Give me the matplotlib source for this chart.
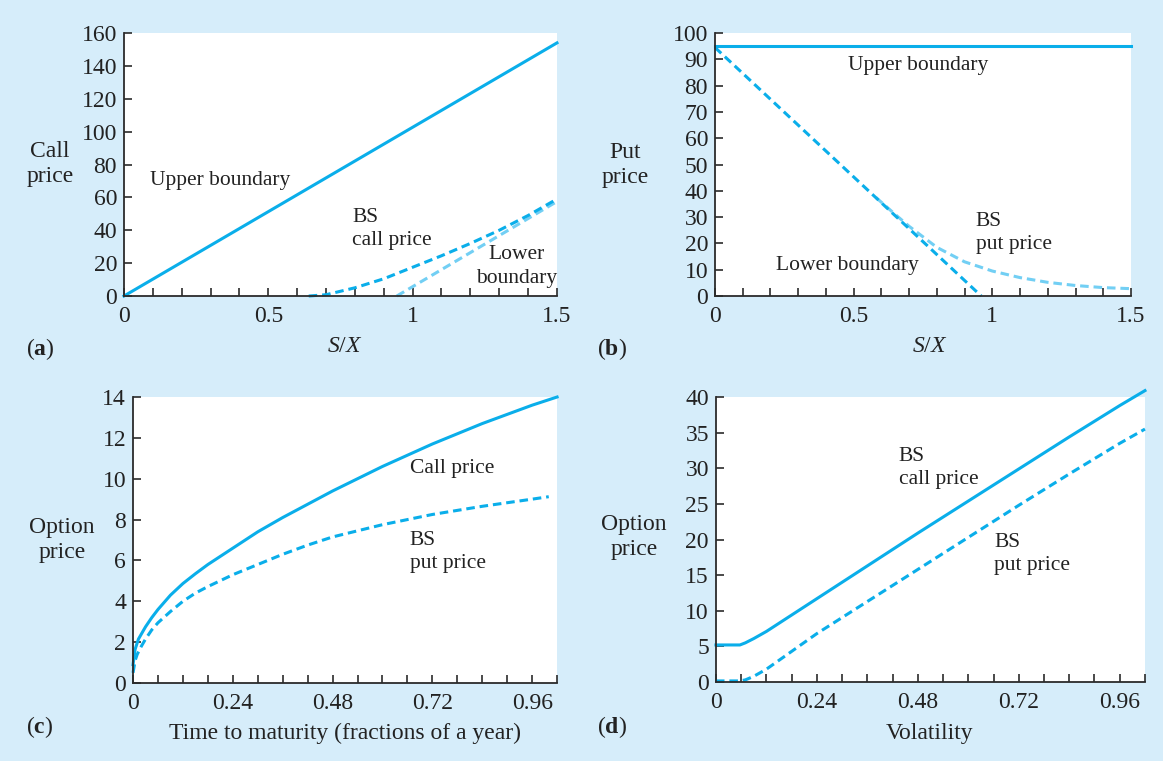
import numpy as np
import matplotlib
matplotlib.use('Agg')
import matplotlib.pyplot as plt

plt.rcParams['font.family'] = ['Liberation Serif', 'DejaVu Serif']
plt.rcParams['mathtext.fontset'] = 'custom'
plt.rcParams['mathtext.rm'] = 'Liberation Serif'
plt.rcParams['mathtext.it'] = 'Liberation Serif:italic'
plt.rcParams['mathtext.bf'] = 'Liberation Serif:bold'

# Colores
AZUL = '#0aaeea'
AZUL_CLARO = '#72cff4'
FONDO = '#d6edfa'
GRIS = '#2b2b2b'
TEXTO = '#222222'

# ---- Panel (a): precio de la call vs S/X
a_x_sup = [0.0, 1.5]
a_y_sup = [0.0, 154.0]
a_x_bs = [0.64, 0.7, 0.8, 0.9, 1.0, 1.1, 1.2, 1.3, 1.4, 1.5]
a_y_bs = [0.0, 0.8, 5.0, 10.5, 17.5, 24.5, 32.0, 40.0, 49.0, 59.0]
a_x_inf = [0.945, 1.5]
a_y_inf = [0.0, 57.5]

# ---- Panel (b): precio de la put vs S/X
b_x_sup = [0.0, 1.5]
b_y_sup = [95.0, 95.0]
b_x_inf = [0.0, 0.96]
b_y_inf = [94.5, 0.0]
b_x_bs = [0.58, 0.65, 0.7, 0.8, 0.9, 1.0, 1.1, 1.2, 1.3, 1.4, 1.5]
b_y_bs = [37.5, 31.0, 26.5, 18.5, 13.0, 9.5, 7.0, 5.2, 4.0, 3.2, 2.8]

# ---- Panel (c): precio vs tiempo al vencimiento
c_t_call = [0.0, 0.005, 0.013, 0.03, 0.045, 0.06, 0.09, 0.12, 0.15, 0.18, 0.24, 0.3, 0.36,
            0.42, 0.48, 0.6, 0.72, 0.84, 0.96, 1.02]
c_call = [0.9, 1.65, 2.15, 2.75, 3.2, 3.6, 4.3, 4.87, 5.35, 5.8, 6.6, 7.4, 8.1,
          8.75, 9.4, 10.6, 11.7, 12.7, 13.6, 14.0]
c_t_put = [0.0, 0.005, 0.01, 0.02, 0.03, 0.045, 0.06, 0.09, 0.12, 0.15, 0.18, 0.24, 0.3,
           0.36, 0.42, 0.48, 0.6, 0.72, 0.84, 0.96, 1.0]
c_put = [0.5, 1.1, 1.4, 1.8, 2.15, 2.6, 2.95, 3.5, 4.0, 4.4, 4.72, 5.3, 5.8,
         6.3, 6.75, 7.15, 7.75, 8.25, 8.65, 9.0, 9.12]

# ---- Panel (d): precio vs volatilidad
d_vol = [0.0, 0.03, 0.057, 0.07, 0.09, 0.12, 0.18, 0.24, 0.36, 0.48, 0.6, 0.72, 0.84, 0.96, 1.02]
d_call = [5.2, 5.2, 5.2, 5.5, 6.1, 7.1, 9.4, 11.7, 16.3, 20.9, 25.4, 29.9, 34.4, 38.8, 40.9]
d_put = [0.15, 0.15, 0.15, 0.3, 0.8, 1.8, 4.3, 6.8, 11.3, 15.8, 20.3, 24.8, 29.2, 33.5, 35.5]

LW = 2.2
GUION = (2.8, 1.6)
FS_TICK = 17
FS_ETIQ = 17
FS_NOTA = 15.5


def preparar_ejes(ax, xlim, ylim, xticks, xlabels, xminor, yticks):
    ax.set_facecolor('white')
    ax.set_xlim(*xlim)
    ax.set_ylim(*ylim)
    for lado in ['top', 'right']:
        ax.spines[lado].set_visible(False)
    for lado in ['left', 'bottom']:
        ax.spines[lado].set_color(GRIS)
        ax.spines[lado].set_linewidth(1.3)
    ax.set_xticks(xticks)
    ax.set_xticklabels(xlabels)
    ax.set_xticks(xminor, minor=True)
    ax.set_yticks(yticks)
    ax.tick_params(which='both', direction='in', colors=GRIS, labelcolor=TEXTO,
                   labelsize=FS_TICK, width=1.2)
    ax.tick_params(axis='x', which='both', length=6, pad=7)
    ax.tick_params(axis='y', which='both', length=6, pad=5)
    ax.tick_params(which='minor', labelbottom=False)


def nota(ax, x, y, texto, **kw):
    ax.text(x, y, texto, fontsize=FS_NOTA, va='center', linespacing=1.3, color=TEXTO, **kw)


fig = plt.figure(figsize=(11.63, 7.61), dpi=100)
fig.patch.set_facecolor(FONDO)

ax_a = fig.add_axes([0.1066, 0.611, 0.3723, 0.3456])
ax_b = fig.add_axes([0.6148, 0.611, 0.3577, 0.3456])
ax_c = fig.add_axes([0.1144, 0.1025, 0.3646, 0.3758])
ax_d = fig.add_axes([0.6156, 0.1038, 0.3689, 0.3745])

# Panel (a)
preparar_ejes(ax_a, (0, 1.5), (0, 160), [0, 0.5, 1, 1.5], ['0', '0.5', '1', '1.5'],
              np.arange(0, 1.51, 0.1), range(0, 161, 20))
ax_a.plot(a_x_sup, a_y_sup, color=AZUL, lw=LW, clip_on=False)
ax_a.plot(a_x_inf, a_y_inf, color=AZUL_CLARO, lw=LW, dashes=GUION, clip_on=False)
ax_a.plot(a_x_bs, a_y_bs, color=AZUL, lw=LW, dashes=GUION, clip_on=False)
nota(ax_a, 0.09, 70, 'Upper boundary')
nota(ax_a, 0.79, 41, 'BS\ncall price')
nota(ax_a, 1.5, 18, 'Lower\nboundary', ha='right', multialignment='center')

# Panel (b)
preparar_ejes(ax_b, (0, 1.5), (0, 100), [0, 0.5, 1, 1.5], ['0', '0.5', '1', '1.5'],
              np.arange(0, 1.51, 0.1), range(0, 101, 10))
ax_b.plot(b_x_sup, b_y_sup, color=AZUL, lw=LW, clip_on=False)
ax_b.plot(b_x_bs, b_y_bs, color=AZUL_CLARO, lw=LW, dashes=GUION, clip_on=False)
ax_b.plot(b_x_inf, b_y_inf, color=AZUL, lw=LW, dashes=GUION, clip_on=False)
nota(ax_b, 0.48, 87.5, 'Upper boundary')
nota(ax_b, 0.94, 24, 'BS\nput price')
nota(ax_b, 0.22, 11.5, 'Lower boundary')

# Panel (c)
preparar_ejes(ax_c, (0, 1.02), (0, 14), [0, 0.24, 0.48, 0.72, 0.96],
              ['0', '0.24', '0.48', '0.72', '0.96'], np.arange(0, 1.03, 0.06), range(0, 15, 2))
ax_c.plot(c_t_call, c_call, color=AZUL, lw=LW, clip_on=False)
ax_c.plot(c_t_put, c_put, color=AZUL, lw=LW, dashes=GUION, clip_on=False)
nota(ax_c, 0.666, 10.5, 'Call price')
nota(ax_c, 0.666, 6.4, 'BS\nput price')

# Panel (d)
preparar_ejes(ax_d, (0, 1.02), (0, 40), [0, 0.24, 0.48, 0.72, 0.96],
              ['0', '0.24', '0.48', '0.72', '0.96'], np.arange(0, 1.03, 0.06), range(0, 41, 5))
ax_d.plot(d_vol, d_call, color=AZUL, lw=LW, clip_on=False)
ax_d.plot(d_vol, d_put, color=AZUL, lw=LW, dashes=GUION, clip_on=False)
nota(ax_d, 0.435, 30, 'BS\ncall price')
nota(ax_d, 0.662, 18, 'BS\nput price')


# Etiquetas de los ejes (en coordenadas de la figura)
def etiqueta(x, y, texto, **kw):
    fig.text(x / 1163, 1 - y / 761, texto, fontsize=FS_ETIQ, ha='center', va='center',
             color=TEXTO, linespacing=1.3, **kw)


etiqueta(50, 164, 'Call\nprice')
etiqueta(625, 165, 'Put\nprice')
etiqueta(62, 540, 'Option\nprice')
etiqueta(634, 537, 'Option\nprice')
etiqueta(345, 346, r'$S/X$')
etiqueta(930, 346, r'$S/X$')
etiqueta(345, 733, 'Time to maturity (fractions of a year)')
etiqueta(930, 733, 'Volatility')
etiqueta(40, 349, r'($\mathbf{a}$)')
etiqueta(612, 349, r'($\mathbf{b}$)')
etiqueta(40, 727, r'($\mathbf{c}$)')
etiqueta(612, 727, r'($\mathbf{d}$)')

fig.savefig('out.png', dpi=100, facecolor=FONDO)
